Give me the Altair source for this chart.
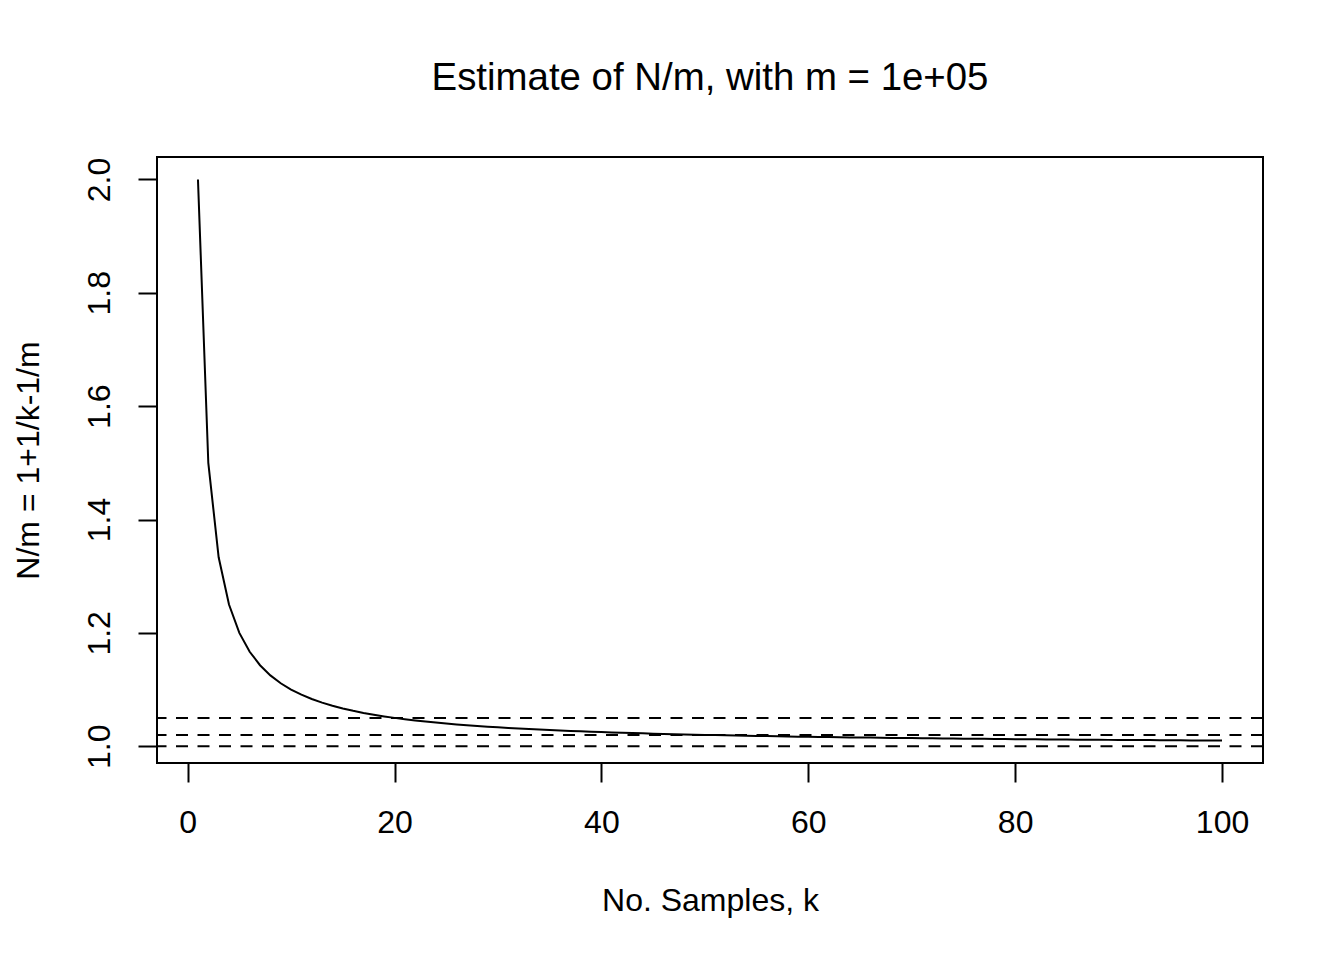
import altair as alt
import pandas as pd

k_values = list(range(1, 101))
ratio_values = [
    2.0, 1.5, 1.3333, 1.25, 1.2, 1.1667, 1.1429, 1.125, 1.1111, 1.1,
    1.0909, 1.0833, 1.0769, 1.0714, 1.0667, 1.0625, 1.0588, 1.0556, 1.0526, 1.05,
    1.0476, 1.0455, 1.0435, 1.0417, 1.04, 1.0385, 1.037, 1.0357, 1.0345, 1.0333,
    1.0323, 1.0313, 1.0303, 1.0294, 1.0286, 1.0278, 1.027, 1.0263, 1.0256, 1.025,
    1.0244, 1.0238, 1.0233, 1.0227, 1.0222, 1.0217, 1.0213, 1.0208, 1.0204, 1.02,
    1.0196, 1.0192, 1.0189, 1.0185, 1.0182, 1.0179, 1.0175, 1.0172, 1.0169, 1.0167,
    1.0164, 1.0161, 1.0159, 1.0156, 1.0154, 1.0152, 1.0149, 1.0147, 1.0145, 1.0143,
    1.0141, 1.0139, 1.0137, 1.0135, 1.0133, 1.0132, 1.013, 1.0128, 1.0127, 1.0125,
    1.0123, 1.0122, 1.012, 1.0119, 1.0118, 1.0116, 1.0115, 1.0114, 1.0112, 1.0111,
    1.011, 1.0109, 1.0108, 1.0106, 1.0105, 1.0104, 1.0103, 1.0102, 1.0101, 1.01,
]
ref_levels = [1.0, 1.02, 1.05]
x_ticks = [0, 20, 40, 60, 80, 100]
y_ticks = [1.0, 1.2, 1.4, 1.6, 1.8, 2.0]

FONT = "Liberation Sans"

curve_df = pd.DataFrame({"k": k_values, "ratio": ratio_values})
ref_df = pd.DataFrame({"level": ref_levels})

x_scale = alt.Scale(domain=[-2.96, 103.96], nice=False, zero=False)
y_scale = alt.Scale(domain=[0.9704, 2.0396], nice=False, zero=False)

curve = alt.Chart(curve_df).mark_line(color="black", strokeWidth=2).encode(
    x=alt.X(
        "k:Q",
        scale=x_scale,
        axis=alt.Axis(
            values=x_ticks,
            title="No. Samples, k",
            domain=False,
            grid=False,
            ticks=True,
            tickSize=19,
            tickWidth=2,
            tickColor="black",
            labelFont=FONT,
            labelFontSize=32,
            labelColor="black",
            labelPadding=25,
            labelFlush=False,
            labelOverlap=False,
            titleFont=FONT,
            titleFontSize=32,
            titleFontWeight="normal",
            titleColor="black",
            titleX=553,
            titleY=147,
            titleAlign="center",
            titleBaseline="alphabetic",
        ),
    ),
    y=alt.Y(
        "ratio:Q",
        scale=y_scale,
        axis=alt.Axis(
            values=y_ticks,
            format=".1f",
            title="N/m = 1+1/k-1/m",
            domain=False,
            grid=False,
            ticks=True,
            tickSize=19,
            tickWidth=2,
            tickColor="black",
            labelFont=FONT,
            labelFontSize=32,
            labelColor="black",
            labelAngle=270,
            labelAlign="center",
            labelBaseline="alphabetic",
            labelPadding=29,
            labelFlush=False,
            labelOverlap=False,
            titleFont=FONT,
            titleFontSize=32,
            titleFontWeight="normal",
            titleColor="black",
            titleAngle=270,
            titleX=-119,
            titleY=303,
            titleAlign="center",
            titleBaseline="alphabetic",
        ),
    ),
)

refs = alt.Chart(ref_df).mark_rule(
    color="black", strokeWidth=2, strokeDash=[12, 9.5]
).encode(y=alt.Y("level:Q", scale=y_scale))

chart = (
    alt.layer(refs, curve)
    .properties(
        width=1106,
        height=606,
        background="white",
        title=alt.TitleParams(
            text="Estimate of N/m, with m = 1e+05",
            font=FONT,
            fontSize=38.4,
            fontWeight="normal",
            color="black",
            anchor="middle",
            baseline="alphabetic",
            offset=29,
        ),
        autosize=alt.AutoSizeParams(type="none"),
        padding={"left": 149, "top": 149, "right": 65, "bottom": 180},
    )
    .configure_view(stroke="black", strokeWidth=2)
)

chart.save("out.html", embed_options={"renderer": "svg", "actions": False})
